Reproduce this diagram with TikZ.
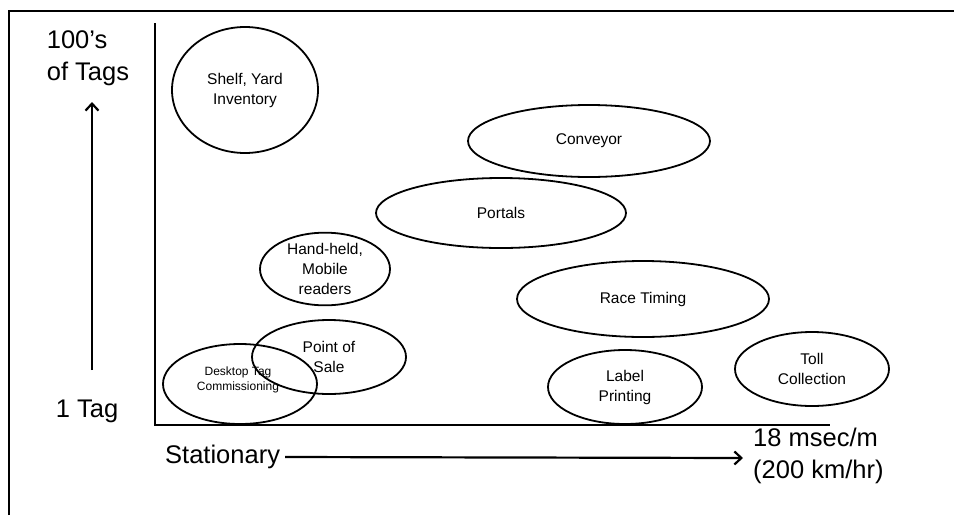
\documentclass[tikz,border=0pt]{standalone}
\usepackage{fontspec}
\setmainfont{Liberation Sans}
\usetikzlibrary{shapes.geometric,arrows.meta}
\tikzset{
  oval/.style={draw, line width=1.8pt, ellipse, inner sep=0pt, align=center,
    font=\fontsize{15.5}{20}\selectfont},
  big/.style={font=\fontsize{25.5}{32}\selectfont, inner sep=0pt},
  axis/.style={line width=2.4pt},
  arr/.style={line width=2.2pt, -{Straight Barb[length=7pt,width=13pt,line width=2.2pt]}}
}
\begin{document}
\begin{tikzpicture}[x=1pt,y=-1pt]
\useasboundingbox (0,0) rectangle (954,515);
\draw[line width=1.8pt] (9,515) -- (9,11) -- (954,11);
% axes
\coordinate (ytop) at (155,23);
\coordinate (orig) at (155,425);
\coordinate (xend) at (830,425);
\draw[axis] (ytop) -- (orig) -- (xend);
% ellipses
\node[oval, minimum width=146pt, minimum height=126pt] (shelf) at (245,90) {Shelf, Yard\\Inventory};
\node[oval, minimum width=242pt, minimum height=72pt] (conv) at (589,141) {Conveyor};
\node[oval, minimum width=250pt, minimum height=70pt] (port) at (501,213) {Portals};
\node[oval, minimum width=130pt, minimum height=66pt] (hand) at (325,269) {Hand-held,\\Mobile\\readers};
\node[oval, minimum width=252pt, minimum height=76pt] (race) at (643,299) {Race Timing};
\node[oval, minimum width=154pt, minimum height=74pt] (pos) at (329,357) {Point of\\Sale};
\node[oval, minimum width=154pt, minimum height=80pt, font=\fontsize{12}{15.5}\selectfont] (desk) at (240,384) {};
\node[font=\fontsize{12}{15.5}\selectfont, align=center, inner sep=0pt] (desktxt) at (238,380) {Desktop Tag\\Commissioning};
\node[oval, minimum width=154pt, minimum height=74pt] (label) at (625,387) {Label\\Printing};
\node[oval, minimum width=154pt, minimum height=74pt] (toll) at (812,369) {Toll\\Collection};
% axis labels
\node[big, align=left] (many) at (88,58) {100’s\\of Tags};
\node[big] (one) at (87,411) {1 Tag};
\coordinate (ybot) at (92,370);
\coordinate (yarr) at (92,102);
\draw[arr] (ybot) -- (yarr);
\node[big, anchor=west] (stat) at (165,457) {Stationary};
\coordinate (xarr) at (743,458);
\draw[arr] (stat.east) ++(5pt,0) coordinate (xs) -- (xarr);
\node[big, align=left, anchor=west] (fast) at (753,456) {18 msec/m\\(200 km/hr)};
\end{tikzpicture}
\end{document}
